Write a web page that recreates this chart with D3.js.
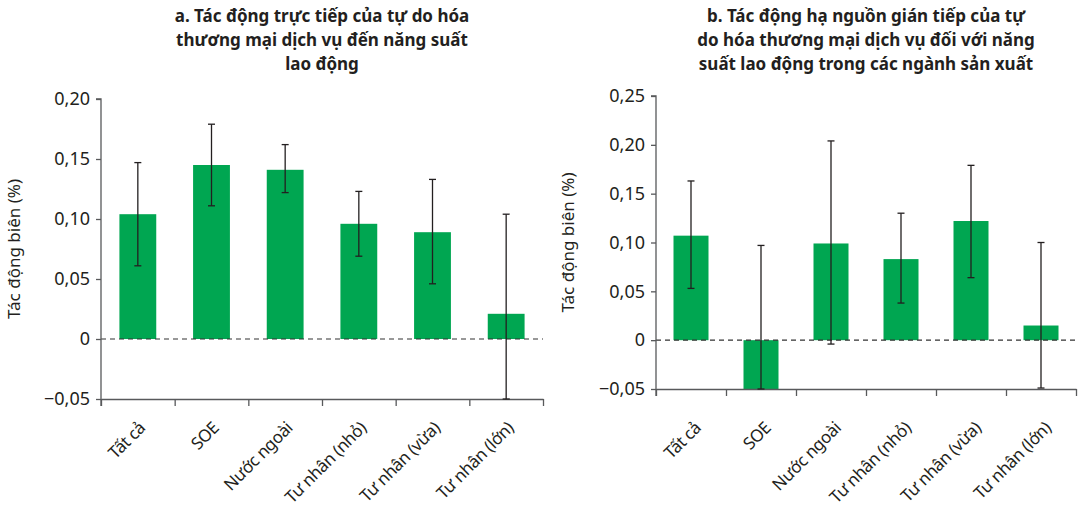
<!DOCTYPE html>
<html>
<head>
<meta charset="utf-8">
<script src="https://cdn.jsdelivr.net/npm/d3@7/dist/d3.min.js"></script>
<style>
  html, body { margin: 0; padding: 0; background: #fff; }
  svg { display: block; }
  text { font-family: "Noto Sans", "Open Sans", sans-serif; fill: #231f20; }
</style>
</head>
<body>
<svg id="chart" width="1080" height="510"></svg>
<script>
// Firm groups shown on both panels
const categories = ["Tất cả", "SOE", "Nước ngoài", "Tư nhân (nhỏ)", "Tư nhân (vừa)", "Tư nhân (lớn)"];

// Panel a: direct effect (point estimate and confidence interval)
const directValues = [0.104, 0.145, 0.141, 0.096, 0.089, 0.021];
const directLow    = [0.061, 0.111, 0.122, 0.069, 0.046, -0.05];
const directHigh   = [0.147, 0.179, 0.162, 0.123, 0.133, 0.104];
const directTicks  = [-0.05, 0, 0.05, 0.10, 0.15, 0.20];

// Panel b: indirect downstream effect in manufacturing
const downstreamValues = [0.107, -0.05, 0.099, 0.083, 0.122, 0.015];
const downstreamLow    = [0.053, -0.05, -0.004, 0.038, 0.064, -0.049];
const downstreamHigh   = [0.163, 0.097, 0.204, 0.130, 0.179, 0.100];
const downstreamTicks  = [-0.05, 0, 0.05, 0.10, 0.15, 0.20, 0.25];

const titleA = ["a. Tác động trực tiếp của tự do hóa", "thương mại dịch vụ đến năng suất", "lao động"];
const titleB = ["b. Tác động hạ nguồn gián tiếp của tự", "do hóa thương mại dịch vụ đối với năng", "suất lao động trong các ngành sản xuất"];
const yTitle = "Tác động biên (%)";

const locale = d3.formatLocale({ decimal: ",", thousands: ".", grouping: [3], currency: ["", ""], minus: "\u2212" });
const fmt2 = locale.format(".2f");
const tickFmt = d => d === 0 ? "0" : fmt2(d);

const svg = d3.select("#chart");
const GREEN = "#00a651";
const AXIS = "#58595b";
const INK = "#231f20";

function drawPanel(cfg) {
  const { left, right, top, bottom, domain, ticks, values, low, high, title, titleY, yTitleX, labelDx, labelDy } = cfg;
  const g = svg.append("g");

  const x = d3.scaleBand().domain(categories).range([left, right]).paddingInner(0.5).paddingOuter(0.25);
  const y = d3.scaleLinear().domain(domain).range([bottom, top]);
  const cx = i => x(categories[i]) + x.bandwidth() / 2;

  // Bars
  g.selectAll("rect.bar").data(values).join("rect")
    .attr("class", "bar")
    .attr("x", (d, i) => x(categories[i]))
    .attr("width", x.bandwidth())
    .attr("y", d => Math.min(y(d), y(0)))
    .attr("height", d => Math.abs(y(d) - y(0)))
    .attr("fill", GREEN);

  // Zero reference line
  g.append("line")
    .attr("x1", left).attr("x2", right)
    .attr("y1", y(0)).attr("y2", y(0))
    .attr("stroke", "#333").attr("stroke-width", 1.2)
    .attr("stroke-dasharray", "5,4");

  // Y axis
  const yAxis = g.append("g")
    .attr("transform", `translate(${left},0)`)
    .call(d3.axisLeft(y).tickValues(ticks).tickFormat(tickFmt).tickSize(5).tickPadding(6));
  yAxis.selectAll("path, line").attr("stroke", AXIS).attr("stroke-width", 1.3);
  yAxis.select(".domain").attr("d", `M-5,${y(domain[1])}H0V${bottom + 7}`);
  yAxis.selectAll("text").attr("font-size", 18).attr("fill", INK)
    .style("font-family", "'Noto Sans', sans-serif");

  // X axis with ticks on band boundaries
  const edges = d3.scaleLinear().domain([0, categories.length]).range([left, right]);
  const xAxis = g.append("g")
    .attr("transform", `translate(0,${bottom})`)
    .call(d3.axisBottom(edges).tickValues(d3.range(categories.length + 1)).tickFormat("").tickSize(7).tickSizeOuter(0));
  xAxis.selectAll("path, line").attr("stroke", AXIS).attr("stroke-width", 1.3);

  // Category labels
  g.selectAll("text.cat").data(categories).join("text")
    .attr("class", "cat")
    .attr("text-anchor", "end")
    .attr("font-size", 17)
    .attr("letter-spacing", -0.4)
    .attr("transform", (d, i) => `translate(${cx(i) + labelDx},${bottom + labelDy}) rotate(-45)`)
    .text(d => d);

  // Error bars
  const eb = g.selectAll("g.err").data(values).join("g").attr("class", "err")
    .attr("stroke", INK).attr("stroke-width", 1.3);
  eb.append("line")
    .attr("x1", (d, i) => cx(i)).attr("x2", (d, i) => cx(i))
    .attr("y1", (d, i) => y(low[i])).attr("y2", (d, i) => y(high[i]));
  eb.append("line")
    .attr("x1", (d, i) => cx(i) - 3.5).attr("x2", (d, i) => cx(i) + 3.5)
    .attr("y1", (d, i) => y(high[i])).attr("y2", (d, i) => y(high[i]));
  eb.append("line")
    .attr("x1", (d, i) => cx(i) - 3.5).attr("x2", (d, i) => cx(i) + 3.5)
    .attr("y1", (d, i) => y(low[i])).attr("y2", (d, i) => y(low[i]));

  // Y axis title
  g.append("text")
    .attr("text-anchor", "middle")
    .attr("font-size", 17)
    .attr("transform", `translate(${yTitleX},${(top + bottom) / 2}) rotate(-90)`)
    .text(yTitle);

  // Panel title
  g.append("text")
    .attr("text-anchor", "middle")
    .attr("font-size", 17)
    .attr("font-weight", "bold")
    .selectAll("tspan").data(title).join("tspan")
    .attr("x", (left + right) / 2)
    .attr("y", (d, i) => titleY + i * 24)
    .text(d => d);
}

drawPanel({
  left: 101, right: 543, top: 99, bottom: 399,
  domain: [-0.05, 0.20], ticks: directTicks,
  values: directValues, low: directLow, high: directHigh,
  title: titleA, titleY: 22, yTitleX: 20, labelDx: 8.5, labelDy: 30
});

drawPanel({
  left: 656, right: 1076, top: 96, bottom: 389,
  domain: [-0.05, 0.25], ticks: downstreamTicks,
  values: downstreamValues, low: downstreamLow, high: downstreamHigh,
  title: titleB, titleY: 22, yTitleX: 574, labelDx: 11, labelDy: 40
});
</script>
</body>
</html>
